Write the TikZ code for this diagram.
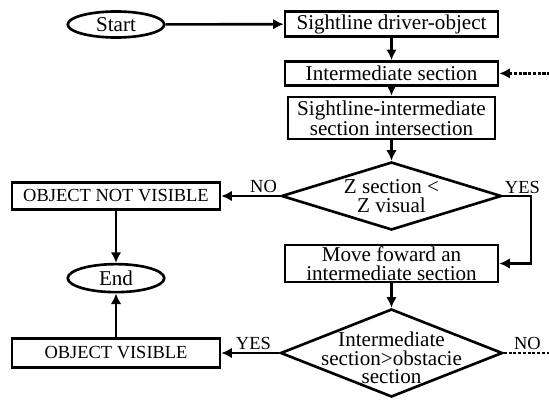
\documentclass[tikz,border=0pt]{standalone}
\usepackage{fontspec}
\setmainfont{Liberation Serif}
\usepackage{tikz}
\usetikzlibrary{positioning,shapes.geometric,arrows.meta}
\tikzset{block/.style={rectangle,draw,line width=1.5pt,minimum width=4.26cm,minimum height=.5cm,inner sep=1pt,align=center},
term/.style={ellipse,draw,line width=1.5pt,minimum width=1.93cm,minimum height=.52cm,inner sep=0pt},
decision/.style={diamond,draw,line width=1.5pt,inner sep=0pt,align=center},
capstext/.style={font=\fontsize{10.5}{10}\selectfont},
answer/.style={capstext,inner sep=1.7pt},
>={Latex[length=6pt,width=6pt]},}

\begin{document}
\begin{tikzpicture}[font=\fontsize{12}{10.5}\selectfont]
    \useasboundingbox (0,0) rectangle (10.98,-8.02);

    \node[block,minimum height=.51cm] (2) at (7.83,-.48) {Sightline driver-object};
    \node[term] (1) at (2.32,-.49) {Start};
    \node[block,minimum height=.48cm] (3) [below = .44cm of 2] {Intermediate section};
    \node[block,minimum width=4.14cm,minimum height=.84cm] (4) at (7.83,-2.36) {Sightline-intermediate\\section intersection};
    \node[decision,shape aspect=3.24,minimum width=4.4cm,minimum height=1.36cm] (5) at (7.83,-3.92) {Z section <\\Z visual};
    \node[block,minimum height=.66cm] (7) at (7.83,-5.27) {Move foward an\\intermediate section};
    \node[decision,minimum width=4.44cm,minimum height=1.76cm] (8) at (7.83,-7.06) {};
    \node[align=center,inner sep=0pt] (11) at (8) [yshift=-.1cm] {Intermediate\\section>obstacie\\section};

    \node[block,capstext,minimum width=4.16cm,minimum height=.54cm] (6) at (1 |- 5) {OBJECT NOT VISIBLE};
    \node[term,minimum height=.56cm] (9) [below = 1.04cm of 6] {End};
    \node[block,capstext,minimum width=4.16cm,minimum height=.58cm] (10) at (1 |- 8) {OBJECT VISIBLE};

    \coordinate (12) at ([xshift=1.02cm]3.east);
    \coordinate (13) at ([xshift=.94cm]8.east);

    \node[answer,anchor=south east] (14) at (5.west) {NO};
    \node[answer,anchor=south west,inner sep=1pt] (15) at (5.east) {YES};
    \node[answer,anchor=south east,xshift=-.1cm] (16) at (8.west) {YES};
    \node[answer,anchor=south west,xshift=.14cm] (17) at (8.east) {NO};

    \path[draw,->,line width=1.5pt]
    (1) edge node {} (2)
    (2) edge node {} (3)
    (3) edge node {} (4)
    (4) edge node {} (5)
    (5) edge node {} (6)
    (6) edge node {} (9)
    (10) edge node {} (9)
    (7) edge node {} (8)
    (8) edge node {} (10)
    ;
    \draw[->,line width=1.5pt] (5.east) -- ++(.56,0) |- (7.east);
    \draw[->,line width=1.5pt,dash pattern=on 1.8pt off .9pt] (12) -- (3);
    \draw[line width=1.5pt,dash pattern=on 1.8pt off .9pt] (8) -- (13);
\end{tikzpicture}
\end{document}
